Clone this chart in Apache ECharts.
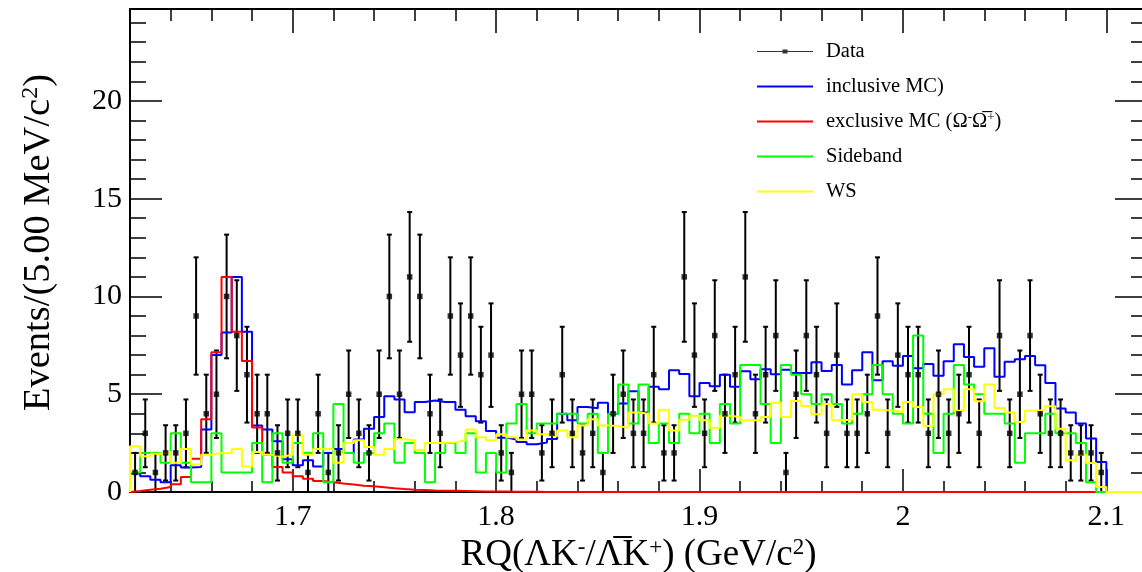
<!DOCTYPE html>
<html>
<head>
<meta charset="utf-8">
<script src="https://cdn.jsdelivr.net/npm/echarts@6/dist/echarts.min.js"></script>
<style>
  html, body { margin: 0; padding: 0; background: #fff; }
  #chart { width: 1142px; height: 572px; }
</style>
</head>
<body>
<div id="chart"></div>
<script>
// binning: 5 MeV bins from 1.62 to 2.12 GeV
const xMin = 1.62;
const xMax = 2.12;
const binWidth = 0.005;

// data counts per bin
const dataCounts = [
  1, 3, 1, 2, 2, 3, 9, 4, 5, 10,
  8, 6, 4, 4, 2, 3, 3, 1, 4, 1,
  2, 5, 3, 2, 5, 10, 5, 11, 10, 4,
  3, 9, 7, 9, 6, 7, 2, 1, 5, 5,
  2, 3, 6, 3, 2, 3, 1, 4, 5, 3,
  3, 6, 2, 2, 11, 7, 3, 8, 4, 6,
  11, 4, 6, 8, 1, 5, 8, 6, 3, 7,
  3, 3, 4, 9, 3, 7, 6, 6, 3, 5,
  3, 4, 6, 3, 0, 8, 3, 5, 8, 4,
  3, 3, 2, 2, 2, 1, 0, 0, 0, 0
];

const inclusiveMC = [
  0.94, 0.8, 0.63, 0.5, 1.37, 1.25, 1.28, 3.2, 7.0, 8.16,
  11.0, 8.2, 3.4, 3.2, 2.6, 1.67, 1.37, 1.62, 1.31, 2.0,
  2.2, 2.0, 2.68, 3.24, 3.84, 4.9, 4.73, 4.08, 4.6, 4.68,
  4.6, 4.6, 4.2, 3.87, 3.62, 3.12, 2.78, 2.68, 2.56, 2.44,
  2.53, 2.71, 4.0, 3.67, 4.35, 4.28, 4.57, 4.0, 4.52, 5.15,
  4.06, 5.38, 5.26, 6.23, 6.04, 4.9, 5.58, 5.41, 6.0, 5.38,
  6.18, 5.77, 6.28, 6.02, 6.25, 6.09, 6.09, 6.64, 6.19, 6.5,
  5.5, 6.23, 7.15, 5.72, 6.69, 6.45, 6.96, 6.33, 6.54, 5.94,
  6.69, 7.56, 6.91, 6.4, 7.35, 5.89, 6.66, 6.79, 6.96, 6.48,
  5.58, 4.27, 4.06, 3.5, 2.73, 1.54, 0, 0, 0, 0
];

const exclusiveMC = [
  0.05, 0.12, 0.17, 0.26, 0.39, 0.77, 1.7, 3.72, 7.15, 11.0,
  8.2, 6.7, 3.3, 1.9, 1.28, 1.0, 0.8, 0.68, 0.56, 0.5,
  0.43, 0.38, 0.32, 0.29, 0.24, 0.19, 0.15, 0.12, 0.1, 0.08,
  0.07, 0.06, 0.05, 0.04, 0.03, 0.02, 0.02, 0.01, 0.01, 0.01,
  0, 0, 0, 0, 0, 0, 0, 0, 0, 0,
  0, 0, 0, 0, 0, 0, 0, 0, 0, 0,
  0, 0, 0, 0, 0, 0, 0, 0, 0, 0,
  0, 0, 0, 0, 0, 0, 0, 0, 0, 0,
  0, 0, 0, 0, 0, 0, 0, 0, 0, 0,
  0, 0, 0, 0, 0, 0, 0, 0, 0, 0
];

const sideband = [
  1.0, 2.0, 2.0, 1.5, 3.0, 1.5, 0.5, 0.5, 3.0, 1.0,
  1.0, 1.0, 2.5, 0.5, 3.0, 1.5, 2.5, 2.0, 3.0, 0.5,
  4.5, 2.0, 1.5, 2.0, 3.0, 3.5, 1.5, 2.5, 2.0, 0.5,
  2.0, 2.5, 2.0, 3.0, 1.0, 2.0, 1.0, 3.5, 4.5, 3.0,
  3.5, 3.5, 4.0, 4.0, 3.5, 4.0, 2.0, 4.0, 5.5, 3.5,
  5.5, 2.5, 3.5, 2.5, 4.0, 3.0, 4.0, 2.5, 4.5, 3.5,
  6.5, 6.5, 4.5, 2.5, 6.5, 6.0, 5.0, 4.5, 5.0, 4.5,
  3.5, 4.0, 5.0, 6.5, 5.0, 4.0, 3.5, 8.0, 4.0, 2.0,
  4.0, 6.5, 5.5, 5.0, 4.0, 4.0, 3.5, 1.5, 3.0, 3.0,
  4.0, 3.0, 3.0, 2.5, 0.5, 0, 0, 0, 0, 0
];

const wrongSign = [
  2.34, 1.83, 1.96, 2.05, 1.5, 2.2, 1.4, 1.9, 2.0, 2.0,
  2.2, 1.3, 2.05, 1.9, 1.8, 1.9, 2.9, 1.9, 2.2, 2.2,
  1.5, 2.5, 2.65, 2.3, 1.9, 2.2, 2.7, 2.65, 2.15, 2.5,
  2.5, 2.55, 2.65, 3.2, 2.8, 2.65, 2.95, 2.8, 2.68, 3.15,
  2.95, 2.85, 3.15, 2.8, 3.4, 3.72, 3.4, 3.38, 3.28, 4.06,
  4.0, 3.5, 4.2, 3.15, 3.7, 3.9, 3.67, 3.28, 3.9, 3.84,
  3.67, 3.67, 3.84, 4.57, 3.84, 4.66, 4.4, 3.98, 4.5, 3.67,
  3.7, 5.0, 4.6, 4.2, 4.15, 4.08, 4.6, 4.35, 3.38, 5.0,
  5.26, 4.15, 5.26, 4.64, 5.5, 4.3, 4.06, 3.58, 4.15, 4.2,
  4.38, 3.24, 1.62, 1.91, 1.48, 0.26, 0, 0, 0, 0
];

const yMax = 24.7;
const serif = '"Liberation Serif", "DejaVu Serif", serif';
const exclName = 'exclusive MC';

// histogram outline as step points on bin edges
function steps(values) {
  const pts = [[xMin, 0]];
  values.forEach((v, i) => pts.push([xMin + i * binWidth, v]));
  const end = xMin + values.length * binWidth;
  pts.push([end, values[values.length - 1]]);
  pts.push([end, 0]);
  return pts;
}

const dataPoints = [];
dataCounts.forEach((n, i) => {
  if (n > 0) {
    const c = xMin + (i + 0.5) * binWidth;
    dataPoints.push([c, n, n - Math.sqrt(n), n + Math.sqrt(n)]);
  }
});

function histSeries(name, values, color) {
  return {
    name: name,
    type: 'line',
    step: 'end',
    symbol: 'none',
    data: steps(values),
    lineStyle: { color: color, width: 2 },
    itemStyle: { color: color },
    xAxisIndex: 0,
    yAxisIndex: 0
  };
}

const chart = echarts.init(document.getElementById('chart'), null, { renderer: 'canvas' });

const tickStyle = { color: '#000', width: 1.5 };
const frameLine = { onZero: false, lineStyle: { color: '#000', width: 2 } };
// legend icons: thin line, and line with a small square for the data
const lineIcon = 'path://M0,0M0,2H56V4H0ZM56,6';
const dataIcon = 'path://M0,2.5H25.5V1H30.5V2.5H56V3.5H30.5V5H25.5V3.5H0ZM0,0M56,6';
const supStyle = size => ({ fontFamily: serif, fontSize: size, verticalAlign: 'top', color: '#000' });

const option = {
  animation: false,
  backgroundColor: '#fff',
  grid: { left: 130, top: 9, right: -5, bottom: 80, outerBoundsMode: 'none', containLabel: false },
  legend: {
    orient: 'vertical',
    left: 757,
    top: 41,
    padding: 0,
    itemWidth: 56,
    itemHeight: 6,
    itemGap: 14,
    textStyle: {
      fontFamily: serif,
      fontSize: 20.5,
      color: '#000',
      padding: [0, 0, 0, 8],
      rich: { sup: supStyle(13) }
    },
    formatter: name => name === exclName ? 'exclusive MC (Ω{sup|-}Ω\u0305{sup|+})' : name,
    data: [
      { name: 'Data', icon: dataIcon },
      { name: 'inclusive MC)', icon: lineIcon },
      { name: exclName, icon: lineIcon },
      { name: 'Sideband', icon: lineIcon },
      { name: 'WS', icon: lineIcon }
    ]
  },
  xAxis: [
    {
      type: 'value',
      min: xMin,
      max: xMax,
      position: 'bottom',
      axisLine: frameLine,
      axisTick: { inside: true, length: 23, lineStyle: tickStyle },
      minorTick: { show: true, splitNumber: 5, length: 11, lineStyle: tickStyle },
      splitLine: { show: false },
      axisLabel: {
        showMinLabel: false,
        showMaxLabel: false,
        margin: 10,
        fontFamily: serif,
        fontSize: 30,
        color: '#000'
      },
      name: 'RQ(ΛK{sup|-}/Λ\u0305K{sup|+}) (GeV/c{sup|2})',
      nameLocation: 'middle',
      nameGap: 40,
      nameTextStyle: {
        fontFamily: serif,
        fontSize: 37,
        color: '#000',
        rich: { sup: supStyle(23) }
      }
    },
    {
      type: 'value',
      min: xMin,
      max: xMax,
      position: 'top',
      axisLine: frameLine,
      axisTick: { inside: true, length: 24, lineStyle: tickStyle },
      minorTick: { show: true, splitNumber: 5, length: 12, lineStyle: tickStyle },
      splitLine: { show: false },
      axisLabel: { show: false }
    }
  ],
  yAxis: [
    {
      type: 'value',
      min: 0,
      max: yMax,
      interval: 5,
      position: 'left',
      axisLine: frameLine,
      axisTick: { inside: true, length: 32, lineStyle: tickStyle },
      minorTick: { show: true, splitNumber: 5, length: 16, lineStyle: tickStyle },
      splitLine: { show: false },
      axisLabel: {
        showMaxLabel: false,
        margin: 8,
        fontFamily: serif,
        fontSize: 30,
        color: '#000'
      },
      name: 'Events/(5.00 MeV/c{sup|2})',
      nameLocation: 'middle',
      nameRotate: 90,
      nameGap: 72,
      nameTextStyle: {
        fontFamily: serif,
        fontSize: 38.5,
        color: '#000',
        padding: [0, 0, 0, 16],
        rich: { sup: supStyle(24) }
      }
    },
    {
      type: 'value',
      min: 0,
      max: yMax,
      interval: 5,
      position: 'right',
      axisLine: frameLine,
      axisTick: { inside: true, length: 32, lineStyle: tickStyle },
      minorTick: { show: true, splitNumber: 5, length: 16, lineStyle: tickStyle },
      splitLine: { show: false },
      axisLabel: { show: false }
    }
  ],
  series: [
    histSeries('inclusive MC)', inclusiveMC, '#0000ff'),
    histSeries(exclName, exclusiveMC, '#ff0000'),
    histSeries('Sideband', sideband, '#00ff00'),
    histSeries('WS', wrongSign, '#ffff00'),
    {
      name: 'errors',
      type: 'custom',
      xAxisIndex: 0,
      yAxisIndex: 0,
      data: dataPoints,
      renderItem: (params, api) => {
        const x = api.value(0);
        const lo = api.coord([x, api.value(2)]);
        const hi = api.coord([x, api.value(3)]);
        const style = { stroke: '#000', lineWidth: 2 };
        return {
          type: 'group',
          children: [
            { type: 'line', shape: { x1: lo[0], y1: lo[1], x2: hi[0], y2: hi[1] }, style: style },
            { type: 'line', shape: { x1: hi[0] - 2.5, y1: hi[1], x2: hi[0] + 2.5, y2: hi[1] }, style: style },
            { type: 'line', shape: { x1: lo[0] - 2.5, y1: lo[1], x2: lo[0] + 2.5, y2: lo[1] }, style: style }
          ]
        };
      },
      encode: { x: 0, y: [1, 2, 3] },
      z: 3
    },
    {
      name: 'Data',
      type: 'scatter',
      symbol: 'rect',
      symbolSize: 5.5,
      data: dataPoints.map(p => [p[0], p[1]]),
      itemStyle: { color: '#000' },
      z: 4
    }
  ]
};

chart.setOption(option);
</script>
</body>
</html>
